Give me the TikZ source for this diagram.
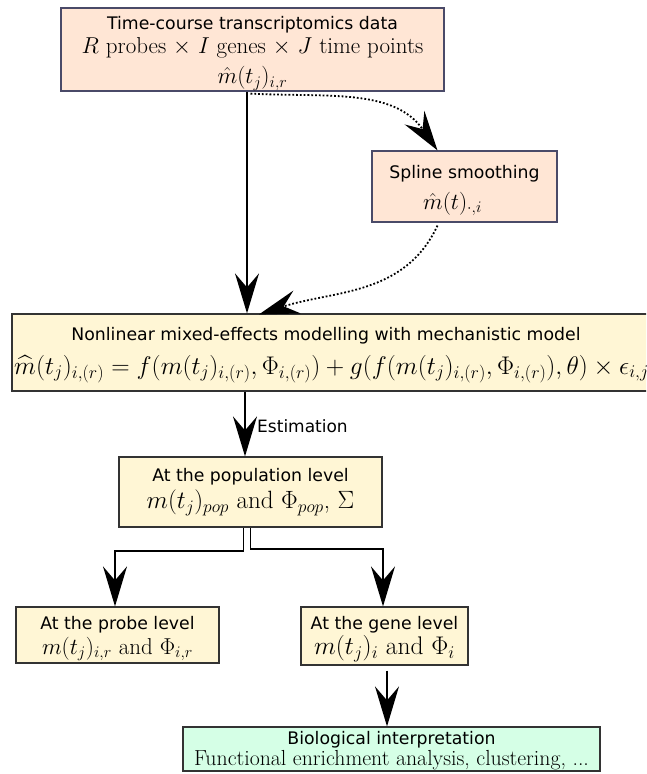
\RequirePackage{fix-cm}
\documentclass[tikz,border=0pt]{standalone}
\usepackage{fontspec}
\usepackage{amsmath}
\newfontfamily\titlefont{DejaVu Sans}
\usetikzlibrary{arrows.meta}
\definecolor{datafill}{HTML}{FFE6D5}
\definecolor{modelfill}{HTML}{FFF6D5}
\definecolor{biofill}{HTML}{D5FFE6}
\definecolor{databorder}{HTML}{4A4A68}
\definecolor{modelborder}{HTML}{333333}
\tikzset{
  box/.style = {
    draw=modelborder, fill=modelfill, line width=1.2pt,
    align=center, inner sep=0pt,
    font=\fontsize{23}{27}\selectfont
  },
  data box/.style = {
    box, draw=databorder, fill=datafill
  },
  bio box/.style = {
    box, fill=biofill
  },
  arrow/.style = {
    line width=1.8pt, -{Stealth[length=40pt, width=24pt, inset=14pt]}
  },
  dotted arrow/.style = {
    arrow, dotted
  }
}
\newcommand{\boxtitle}[1]{{\titlefont\fontsize{17.3}{21}\selectfont #1}}

\begin{document}
\begin{tikzpicture}[x=1pt, y=-1pt]
    \useasboundingbox (0,0) rectangle (646,774);
    \clip (0,0) rectangle (646,774);
    % les boîtes
    \node[data box, minimum width=383pt, minimum height=83pt] (data) at (252.5,49.5)
      {\rule{0pt}{21pt}\boxtitle{Time-course transcriptomics data}\\[-3pt]
       $R$ probes $\times$ $I$ genes $\times$ $J$ time points\\[3pt]
       $\hat{m}(t_j)_{i,r}$};
    \node[data box, minimum width=185pt, minimum height=71pt] (spline) at (464.5,186.5)
      {\rule{0pt}{21pt}\boxtitle{Spline smoothing}\\[4pt]
       \hspace*{-24pt}$\hat{m}(t)_{\cdot,i}$};
    \node[box, minimum width=650pt, minimum height=77pt] (nlme) at (337,352.5) {};
    \node[anchor=north, inner sep=0pt] (nlmetitle) at (326,327)
      {\boxtitle{Nonlinear mixed-effects modelling with mechanistic model}};
    \node[anchor=west, inner sep=0pt, font=\fontsize{25.5}{30}\selectfont] (nlmeeq) at (14,369)
      {$\widehat{m}(t_j)_{i,(r)} = f(m(t_j)_{i,(r)}, \Phi_{i,(r)}) + g(f(m(t_j)_{i,(r)}, \Phi_{i,(r)}), \theta) \times \epsilon_{i,j}$};
    \node[box, minimum width=263pt, minimum height=70pt, font=\fontsize{25}{29}\selectfont] (pop) at (250.5,492)
      {\boxtitle{At the population level}\\[-2pt]
       $m(t_j)_{pop}$ and $\Phi_{pop}$, $\Sigma$};
    \node[box, minimum width=203pt, minimum height=56pt] (probe) at (117.5,635)
      {\rule{0pt}{20pt}\boxtitle{At the probe level}\\[-2pt]
       $m(t_j)_{i,r}$ and $\Phi_{i,r}$};
    \node[box, minimum width=167pt, minimum height=58pt, font=\fontsize{25.5}{29}\selectfont] (gene) at (384.5,636)
      {\rule{0pt}{20pt}\boxtitle{At the gene level}\\[-4pt]
       $m(t_j)_i$ and $\Phi_i$};
    \node[bio box, minimum width=417pt, minimum height=44pt, font=\fontsize{21.8}{27}\selectfont] (bio) at (391.5,749)
      {\rule{0pt}{17pt}\boxtitle{Biological interpretation}\\[-6pt]
       Functional enrichment analysis, clustering, ...};
    % les flèches
    \draw[arrow] ([xshift=-5.5pt]data.south) -- ([xshift=-5.5pt]data.south |- nlme.north);
    \draw[dotted arrow] ([xshift=-2pt, yshift=-2pt]data.south)
      to[out=-3, in=125] ([xshift=-27pt]spline.north);
    \draw[dotted arrow] ([xshift=-27pt, yshift=-3pt]spline.south)
      to[out=-115, in=18] ([xshift=-78pt, yshift=-1pt]nlme.north);
    \draw[arrow] ([xshift=-92pt]nlme.south) -- ([xshift=-92pt]nlme.south |- pop.north)
      node[midway, right, xshift=8pt, yshift=-2pt, font=\titlefont\fontsize{17}{20}\selectfont] (est) {Estimation};
    \draw[arrow] ([xshift=-7pt]pop.south) -- ++(0,23) -| ([xshift=-2.5pt]probe.north);
    \draw[arrow] (pop.south) -- ++(0,21) -| ([xshift=-1.5pt]gene.north);
    \draw[arrow] ([xshift=2.5pt, yshift=-5pt]gene.south) -- ([xshift=2.5pt]gene.south |- bio.north);
\end{tikzpicture}
\end{document}
